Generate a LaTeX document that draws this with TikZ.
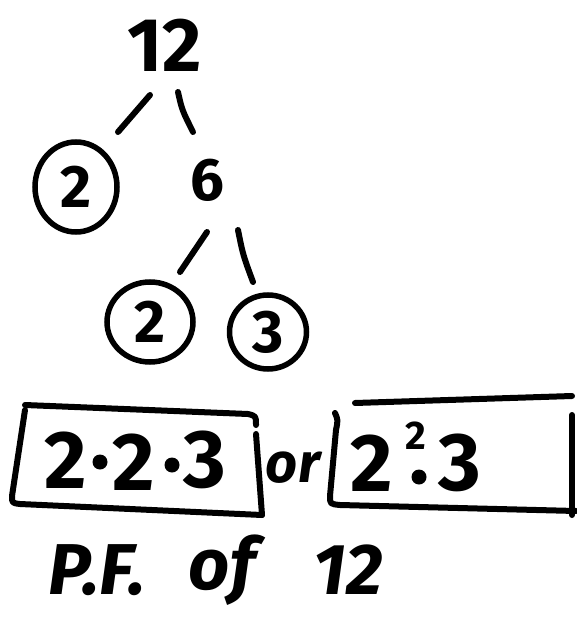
\documentclass[tikz,border=0pt]{standalone}
\usepackage{fontspec}
\setmainfont{Fira Sans}
\usetikzlibrary{shapes.geometric}
\begin{document}
\begin{tikzpicture}[x=1pt,y=-1pt,
  ink/.style={line width=6pt,line cap=round,line join=round},
  num/.style={font=\fontsize{60}{60}\selectfont\bfseries, inner sep=0pt},
  big/.style={num, font=\fontsize{82}{82}\selectfont\bfseries},
  capt/.style={num, font=\fontsize{72}{72}\selectfont\bfseries\itshape},
  ring/.style={ellipse, draw, line width=5.5pt, inner sep=0pt},
]
\useasboundingbox[fill=white] (0,0) rectangle (576,617);
% tree
\node[num, font=\fontsize{76}{76}\selectfont\bfseries] (n12) at (165,45) {12};
\node[num, ring, minimum width=82pt, minimum height=90pt] (c2a) at (76,187) {2};
\node[num] (n6) at (207,180) {6};
\node[num, ring, minimum width=86pt, minimum height=80pt] (c2b) at (150,322) {2};
\node[num, ring, minimum width=77pt, minimum height=74pt] (c3) at (268,332) {3};
% branches
\coordinate (b1s) at (150,95);  \coordinate (b1e) at (118,132);
\coordinate (b2s) at (178,92);  \coordinate (b2e) at (193,132);
\coordinate (b3s) at (207,232); \coordinate (b3e) at (180,272);
\coordinate (b4s) at (238,230); \coordinate (b4e) at (253,282);
\draw[ink] (b1s) -- (b1e);
\draw[ink] (b2s) .. controls (182,110) .. (b2e);
\draw[ink] (b3s) -- (b3e);
\draw[ink] (b4s) .. controls (243,255) .. (b4e);
% answer 1
\node[big] (p1) at (66,460) {2};
\coordinate (d1) at (100,462);
\node[big] (p2) at (134,462) {2};
\coordinate (d2) at (172,465);
\node[big] (p3) at (205,460) {3};
\fill (d1) circle[radius=7.5] (d2) circle[radius=7.5];
% or
\node[inner sep=0pt, font=\fontsize{56}{56}\selectfont\bfseries\itshape] (or) at (293,468) {or};
% answer 2
\node[big] (q2) at (372,463) {2};
\node[num, font=\fontsize{40}{40}\selectfont\bfseries] (qs) at (416,436) {2};
\coordinate (qd) at (419,477);
\fill (qd) circle[radius=7.5];
\node[big] (q3) at (460,463) {3};
% box 1
\draw[ink] (25,405) -- (248,414) .. controls (256,416) .. (256,425);
\draw[ink] (25,410) -- (12,496) .. controls (12,503) .. (20,504) -- (262,515);
\draw[ink] (256,434) -- (262,515);
% box 2
\draw[ink] (355,403) -- (572,396);
\draw[ink] (335,413) .. controls (338,420) .. (336,430) -- (330,496) .. controls (330,504) .. (340,505) -- (576,511);
\draw[ink] (572,415) -- (572,515);
% caption
\node[capt] (cpf) at (97,570) {P.F.};
\node[capt] (cof) at (222,570) {of};
\node[capt] (c12) at (348,570) {12};
\end{tikzpicture}
\end{document}
